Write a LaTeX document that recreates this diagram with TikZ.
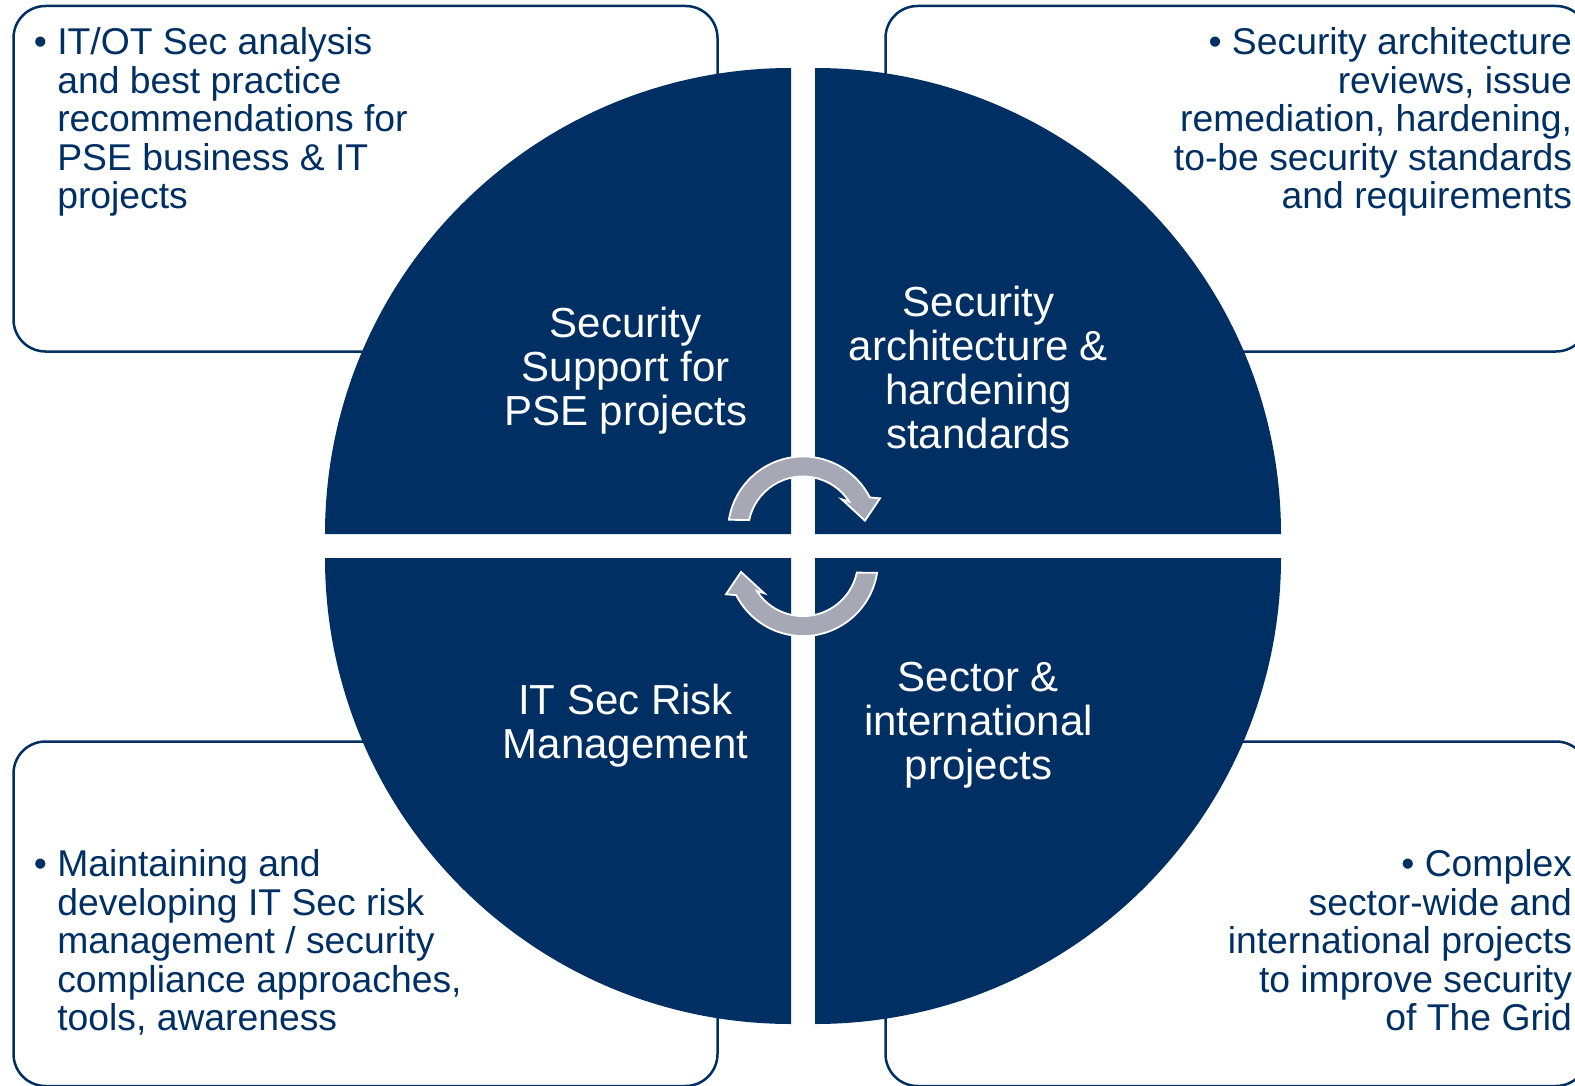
\documentclass[tikz,border=0pt]{standalone}
\usepackage{fontspec}
\setmainfont{Liberation Sans}
\definecolor{navy}{RGB}{0,48,99}
\definecolor{arrowgray}{RGB}{166,168,181}
\tikzset{
  box/.style={draw=navy, line width=2.5pt, rounded corners=32pt, fill=white,
    inner sep=0pt, outer sep=0pt, anchor=north west},
  quad/.style={fill=navy},
  boxtext/.style={text=navy, inner sep=0pt, outer sep=0pt, font=\fontsize{37.3}{38.5}\selectfont},
  quadtext/.style={text=white, inner sep=0pt, align=center, anchor=base,
    font=\fontsize{42}{44}\selectfont},
  cycarrow/.style={fill=arrowgray, draw=white, line width=1.8pt, line join=miter},
}
\begin{document}
\begin{tikzpicture}[x=1pt,y=1pt]
\useasboundingbox (0,0) rectangle (1575,-1086);
\clip (0,0) rectangle (1575,-1086);
% outer boxes
\node[box, minimum width=704pt, minimum height=345.5pt] (boxTL) at (13.5,-6) {};
\node[box, minimum width=702.5pt, minimum height=345.5pt] (boxTR) at (885.5,-6) {};
\node[box, minimum width=704pt, minimum height=344.5pt] (boxBL) at (13.5,-741.5) {};
\node[box, minimum width=702.5pt, minimum height=344.5pt] (boxBR) at (885.5,-741.5) {};
% quadrants
\fill[quad] (791,-534) -- ++(-466,0) arc[start angle=180,end angle=90,radius=466] -- cycle;
\fill[quad] (815,-534) -- ++(0,466) arc[start angle=90,end angle=0,radius=466] -- cycle;
\fill[quad] (815,-558) -- ++(466,0) arc[start angle=0,end angle=-90,radius=466] -- cycle;
\fill[quad] (791,-558) -- ++(0,-466) arc[start angle=-90,end angle=-180,radius=466] -- cycle;
% circular arrows
\begin{scope}[shift={(803,-546.3)}]
  \filldraw[cycarrow] (-74.08,26.53) arc[start angle=171,end angle=27,radius=75]
    -- (77,48) -- (62,25.6) -- (38.7,47) -- (46.1,44.8)
    arc[start angle=33,end angle=168,radius=55] -- cycle;
  \filldraw[cycarrow, rotate=180] (-74.08,26.53) arc[start angle=171,end angle=27,radius=75]
    -- (77,48) -- (62,25.6) -- (38.7,47) -- (46.1,44.8)
    arc[start angle=33,end angle=168,radius=55] -- cycle;
\end{scope}
% quadrant labels (anchor = baseline of last line)
\node[quadtext] (qTL) at (625.7,-425.5) {Security\\Support for\\PSE projects};
\node[quadtext] (qTR) at (978.5,-448.5) {Security\\architecture \&\\hardening\\standards};
\node[quadtext] (qBL) at (625.5,-758) {IT Sec Risk\\Management};
\node[quadtext] (qBR) at (978.5,-779.3) {Sector \&\\international\\projects};
% box texts (anchor = baseline of last line)
\node[boxtext, anchor=base west] (bulTL) at (34,-55) {•};
\node[boxtext, anchor=base west, align=left] (tTL) at (57.3,-209)
  {IT/OT Sec analysis\\and best practice\\recommendations for\\PSE business \& IT\\projects};
\node[boxtext, anchor=base east, align=right] (tTR) at (1572,-209)
  {•\ Security architecture\\reviews, issue\\remediation, hardening,\\to-be security standards\\and requirements};
\node[boxtext, anchor=base west] (bulBL) at (34,-876.7) {•};
\node[boxtext, anchor=base west, align=left] (tBL) at (57.3,-1030.7)
  {Maintaining and\\developing IT Sec risk\\management / security\\compliance approaches,\\tools, awareness};
\node[boxtext, anchor=base east, align=right] (tBR) at (1572,-1030.7)
  {•\ Complex\\sector-wide and\\international projects\\to improve security\\of The Grid};
\end{tikzpicture}
\end{document}
